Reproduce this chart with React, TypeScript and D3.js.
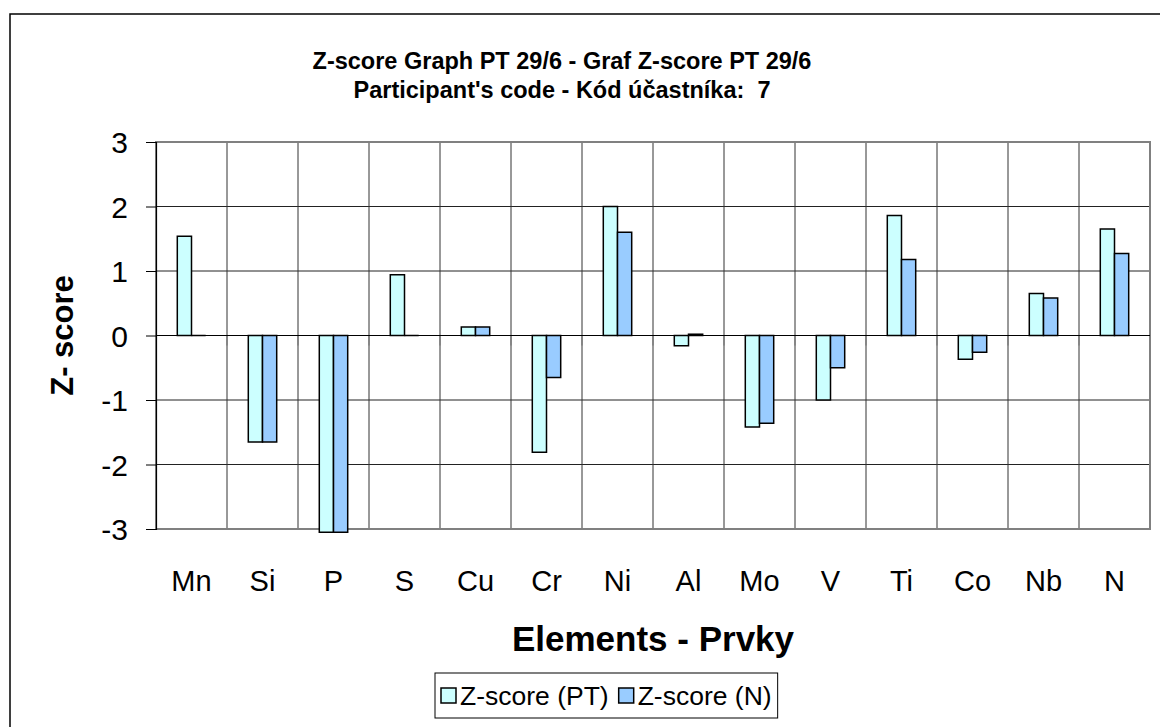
import { useEffect, useRef } from 'react';
import * as d3 from 'd3';

const elements = ['Mn', 'Si', 'P', 'S', 'Cu', 'Cr', 'Ni', 'Al', 'Mo', 'V', 'Ti', 'Co', 'Nb', 'N'];
const zPT = [1.54, -1.65, -3.05, 0.94, 0.13, -1.81, 2.0, -0.16, -1.42, -1.0, 1.86, -0.37, 0.65, 1.65];
const zN = [0.0, -1.65, -3.05, 0.0, 0.13, -0.65, 1.6, 0.02, -1.36, -0.5, 1.18, -0.26, 0.58, 1.27];
const seriesNames = ['Z-score (PT)', 'Z-score (N)'];
const seriesColors = ['#CCFFFF', '#99CCFF'];
const yTicks = [-3, -2, -1, 0, 1, 2, 3];
const titleLines = ['Z-score Graph PT 29/6 - Graf Z-score PT 29/6', "Participant's code - K\u00f3d \u00fa\u010dastn\u00edka:  7"];

const FONT = '"Liberation Sans", Arial, Helvetica, sans-serif';

export default function App() {
  const svgRef = useRef<SVGSVGElement>(null);

  useEffect(() => {
    if (!svgRef.current) return;
    const svg = d3.select(svgRef.current);
    svg.selectAll('*').remove();

    const left = 156, right = 1150, top = 142, bottom = 529;

    // outer chart frame (runs off the right and bottom edge)
    svg.append('rect')
      .attr('x', 10).attr('y', 14)
      .attr('width', 1200).attr('height', 760)
      .attr('fill', '#fff').attr('stroke', '#000').attr('stroke-width', 1.5);

    const x0 = d3.scaleBand<string>().domain(elements).range([left, right]).paddingInner(0).paddingOuter(0);
    const group = x0.bandwidth() / 2.5;
    const x1 = d3.scaleBand<string>()
      .domain(seriesNames)
      .range([(x0.bandwidth() - group) / 2, (x0.bandwidth() + group) / 2]);
    const y = d3.scaleLinear().domain([-3, 3]).range([bottom, top]);

    // horizontal grid
    svg.append('g').selectAll('line')
      .data(yTicks.filter(t => t !== -3 && t !== 3 && t !== 0))
      .join('line')
      .attr('x1', left).attr('x2', right)
      .attr('y1', d => y(d)).attr('y2', d => y(d))
      .attr('stroke', '#222').attr('stroke-width', 1);

    // vertical grid at category boundaries
    svg.append('g').selectAll('line')
      .data(elements.slice(1))
      .join('line')
      .attr('x1', d => x0(d)!).attr('x2', d => x0(d)!)
      .attr('y1', top).attr('y2', bottom)
      .attr('stroke', '#333').attr('stroke-width', 1);

    // plot border
    svg.append('rect')
      .attr('x', left).attr('y', top)
      .attr('width', right - left).attr('height', bottom - top)
      .attr('fill', 'none').attr('stroke', '#808080').attr('stroke-width', 2);

    // category ticks on the zero axis
    svg.append('g').selectAll('line')
      .data(elements.slice(1).concat(['end']))
      .join('line')
      .attr('x1', d => d === 'end' ? right : x0(d)!)
      .attr('x2', d => d === 'end' ? right : x0(d)!)
      .attr('y1', y(0)).attr('y2', y(0) + 10)
      .attr('stroke', '#808080').attr('stroke-width', 1.5);

    // bars
    const values = [zPT, zN];
    const bars = svg.append('g');
    elements.forEach((el, i) => {
      seriesNames.forEach((s, si) => {
        const bx = x0(el)! + x1(s)!;
        const w = x1.bandwidth();
        const y0 = y(0);
        const y1 = y(values[si][i]);
        const p = d3.path();
        p.moveTo(bx, y0);
        p.lineTo(bx, y1);
        p.lineTo(bx + w, y1);
        p.lineTo(bx + w, y0);
        p.closePath();
        bars.append('path')
          .attr('d', p.toString())
          .attr('fill', seriesColors[si])
          .attr('stroke', '#000')
          .attr('stroke-width', 1.5);
      });
    });

    // zero axis
    svg.append('line')
      .attr('x1', left).attr('x2', right)
      .attr('y1', y(0)).attr('y2', y(0))
      .attr('stroke', '#000').attr('stroke-width', 1);

    // y axis
    const yAxis = d3.axisLeft(y).tickValues(yTicks).tickSize(10).tickPadding(18)
      .tickFormat(d => String(d));
    const ga = svg.append('g').attr('transform', `translate(${left},0)`).call(yAxis);
    ga.select('.domain').attr('stroke', '#000').attr('stroke-width', 1.2);
    ga.selectAll('.tick line').attr('stroke', '#000');
    ga.selectAll('.tick text')
      .attr('font-family', FONT).attr('font-size', 30).attr('fill', '#000')
      .attr('dy', '0.35em');

    // x labels
    svg.append('g').selectAll('text')
      .data(elements)
      .join('text')
      .attr('x', d => x0(d)! + x0.bandwidth() / 2)
      .attr('y', 591)
      .attr('text-anchor', 'middle')
      .attr('font-family', FONT).attr('font-size', 29)
      .text(d => d);

    // titles
    svg.append('g').selectAll('text')
      .data(titleLines)
      .join('text')
      .attr('x', 562)
      .attr('y', (d, i) => 69 + i * 29)
      .attr('text-anchor', 'middle')
      .attr('font-family', FONT).attr('font-size', 23.5).attr('font-weight', 'bold')
      .style('white-space', 'pre')
      .text(d => d);

    svg.append('text')
      .attr('transform', `translate(73,${y(0)}) rotate(-90)`)
      .attr('text-anchor', 'middle')
      .attr('font-family', FONT).attr('font-size', 31).attr('font-weight', 'bold')
      .text('Z- score');

    svg.append('text')
      .attr('x', (left + right) / 2).attr('y', 651)
      .attr('text-anchor', 'middle')
      .attr('font-family', FONT).attr('font-size', 35).attr('font-weight', 'bold')
      .text('Elements - Prvky');

    // legend
    const lg = svg.append('g');
    const lgX = 435, lgY = 673, lgH = 45;
    let cx = lgX + 6;
    const items: { x: number; si: number }[] = [];
    seriesNames.forEach((s, si) => {
      const t = lg.append('text')
        .attr('x', cx + 19).attr('y', lgY + 32)
        .attr('font-family', FONT).attr('font-size', 26.5)
        .text(s);
      items.push({ x: cx, si });
      const w = (t.node() as SVGTextElement).getComputedTextLength();
      cx += 19 + w + 10;
    });
    lg.insert('rect', ':first-child')
      .attr('x', lgX).attr('y', lgY)
      .attr('width', cx - lgX - 4).attr('height', lgH)
      .attr('fill', '#fff').attr('stroke', '#000').attr('stroke-width', 1);
    lg.selectAll('rect.mk')
      .data(items)
      .join('rect')
      .attr('class', 'mk')
      .attr('x', d => d.x).attr('y', lgY + 15)
      .attr('width', 15).attr('height', 15)
      .attr('fill', d => seriesColors[d.si])
      .attr('stroke', '#000').attr('stroke-width', 1.5);
  }, []);

  return (
    <svg
      ref={svgRef}
      width={1160}
      height={727}
      style={{ position: 'absolute', left: 0, top: 0, background: '#fff' }}
    />
  );
}
